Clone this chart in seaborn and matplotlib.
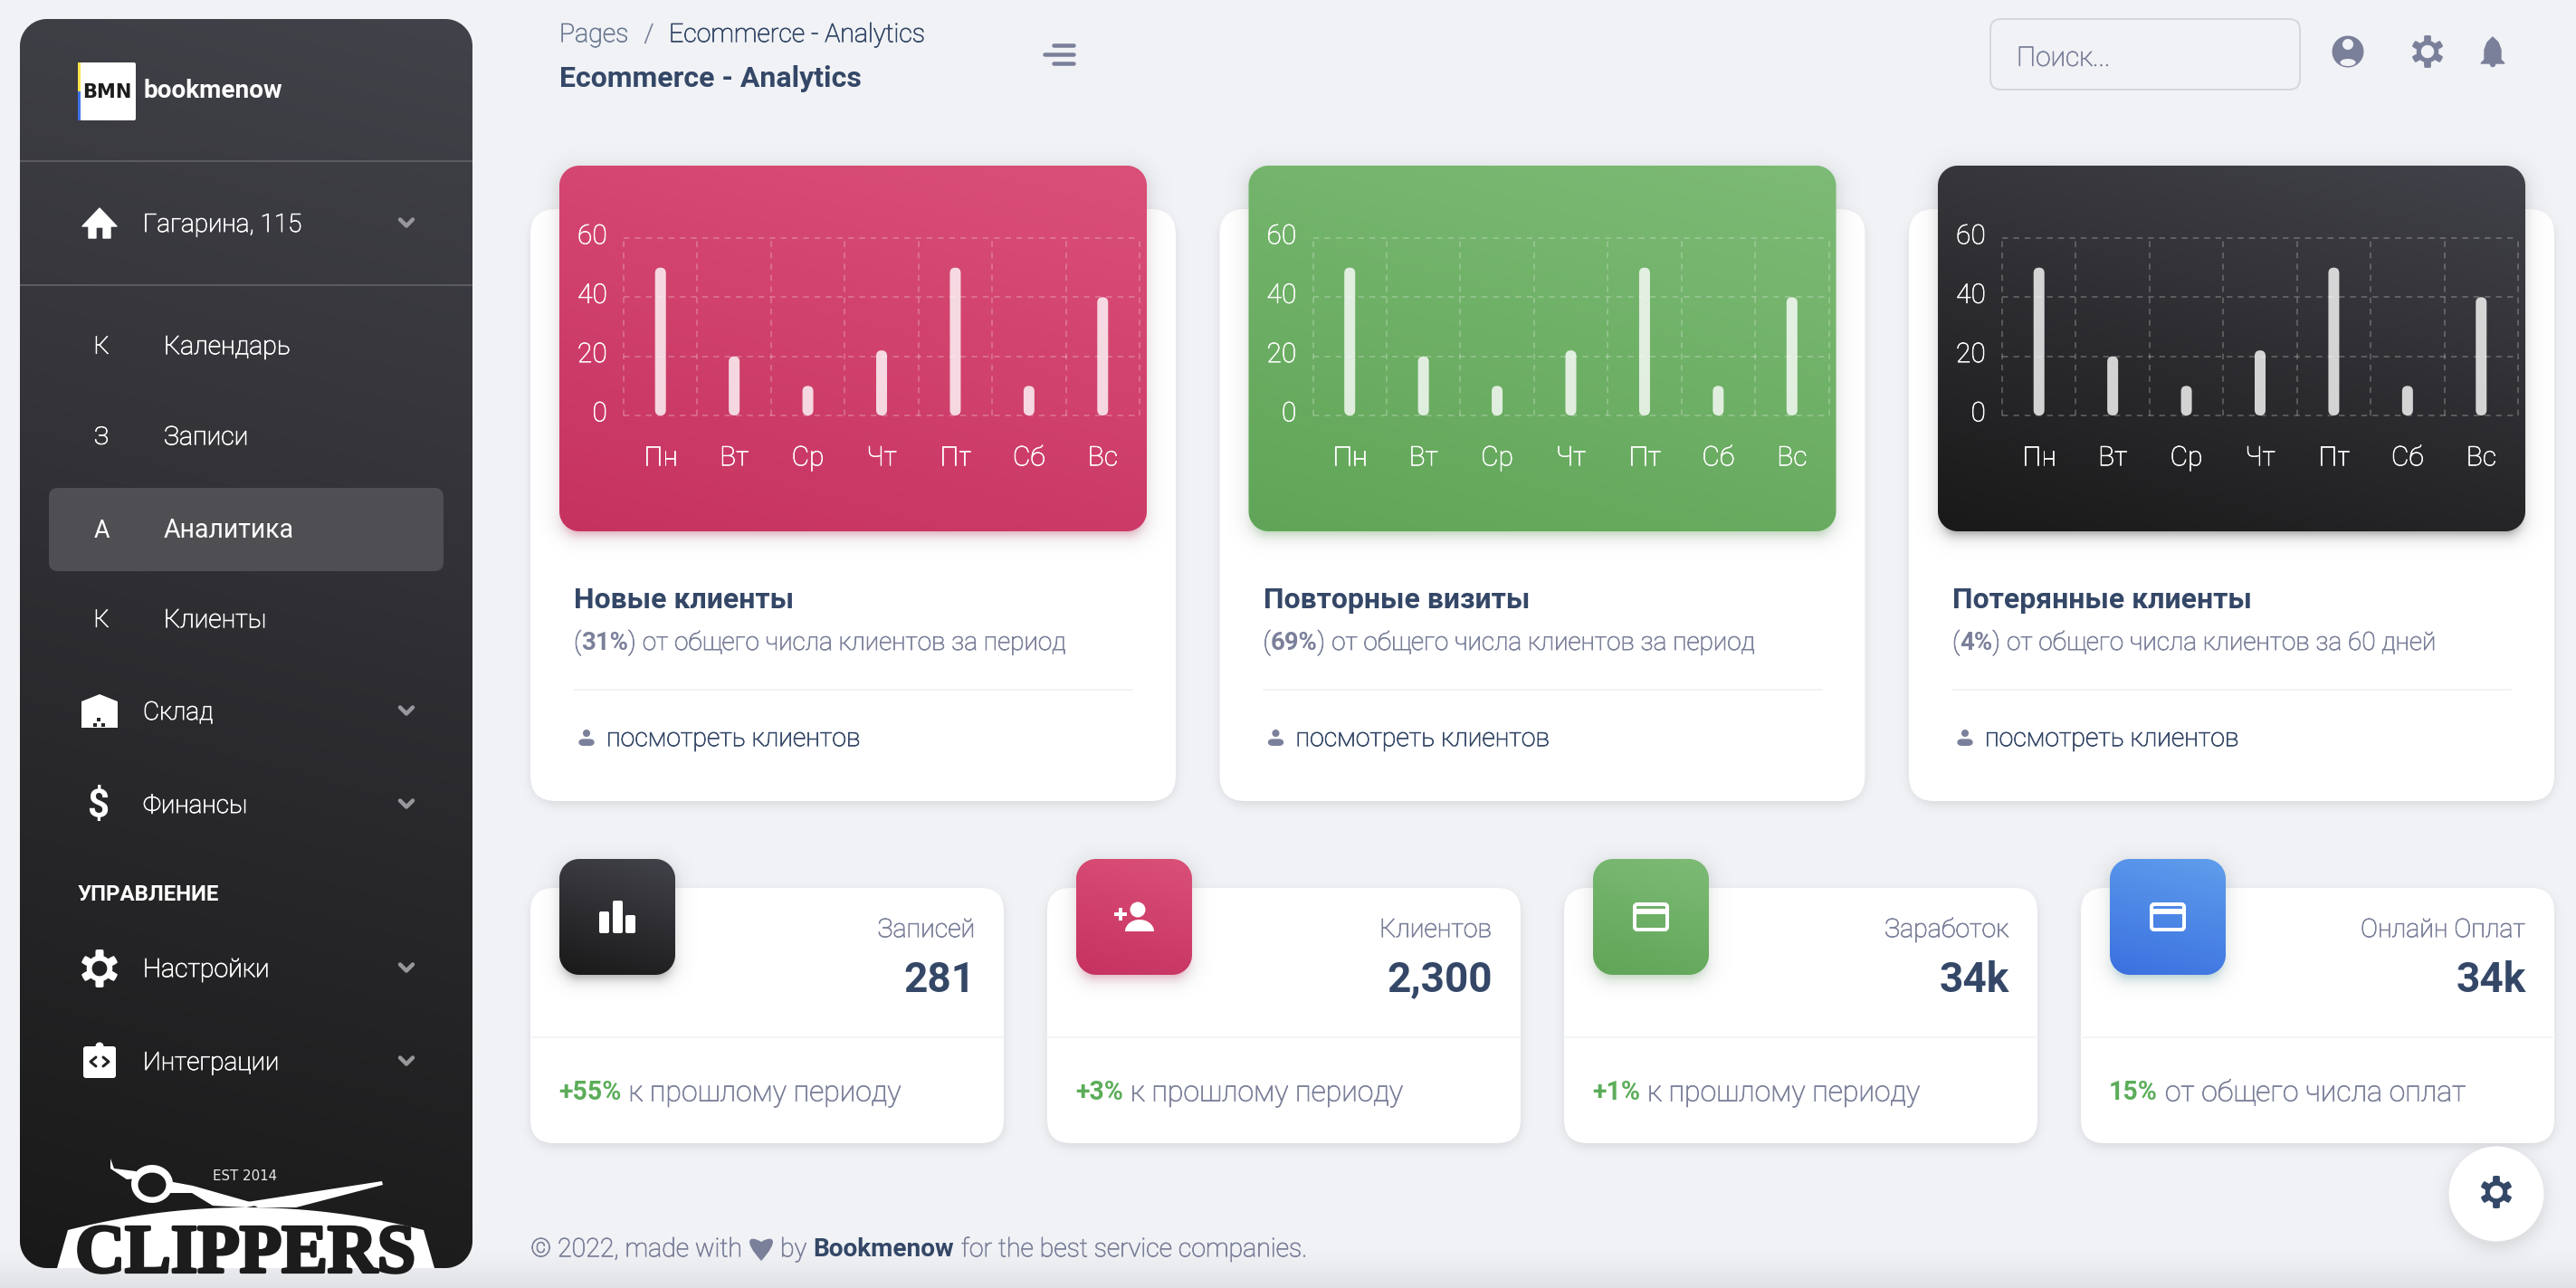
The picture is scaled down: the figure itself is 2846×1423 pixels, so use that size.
import numpy as np
import matplotlib
matplotlib.use('Agg')
import matplotlib.pyplot as plt
from matplotlib.colors import to_rgb
from matplotlib.patches import FancyBboxPatch, Polygon, Circle, Ellipse, Rectangle, PathPatch
from matplotlib.path import Path
from matplotlib.transforms import ScaledTranslation
import matplotlib.patheffects as pe
import seaborn as sns

# ---------- data ----------
days = ['Пн', 'Вт', 'Ср', 'Чт', 'Пт', 'Сб', 'Вс']
new_clients = [50, 20, 10, 22, 50, 10, 40]
repeat_visits = [50, 20, 10, 22, 50, 10, 40]
lost_clients = [50, 20, 10, 22, 50, 10, 40]
y_ticks = [0, 20, 40, 60]
card_titles = ['Новые клиенты', 'Повторные визиты', 'Потерянные клиенты']
card_pcts = ['31%', '69%', '4%']
card_tails = ['от общего числа клиентов за период', 'от общего числа клиентов за период',
              'от общего числа клиентов за 60 дней']
stat_labels = ['Записей', 'Клиентов', 'Заработок', 'Онлайн Оплат']
stat_values = ['281', '2,300', '34k', '34k']
stat_deltas = ['+55%', '+3%', '+1%', '15%']
stat_tails = ['к прошлому периоду', 'к прошлому периоду', 'к прошлому периоду', 'от общего числа оплат']

W, H = 2846, 1423
BG = '#f0f2f5'
DARK = '#344767'
GRAY = '#7b809a'
PINK = ('#da5078', '#c63260')
GREEN = ('#7dbb76', '#60a557')
BLACK = ('#42424a', '#191919')
BLUE = ('#5f9eec', '#3a70e0')
FONT = ['Roboto', 'DejaVu Sans']
SIDE = '#ffffff'

sns.set_style('white')
plt.rcParams['font.family'] = FONT

fig = plt.figure(figsize=(W / 100, H / 100), dpi=100, facecolor=BG)
pg = fig.add_axes([0, 0, 1, 1], zorder=0)
pg.set_axis_off()
pg.set_xlim(0, W)
pg.set_ylim(H, 0)
_z = [1]


def z():
    _z[0] += 1
    return _z[0]


def sdf(xx, yy, x0, y0, x1, y1, r):
    cx, cy = (x0 + x1) / 2, (y0 + y1) / 2
    qx = np.abs(xx - cx) - ((x1 - x0) / 2 - r)
    qy = np.abs(yy - cy) - ((y1 - y0) / 2 - r)
    return np.hypot(np.maximum(qx, 0), np.maximum(qy, 0)) + np.minimum(np.maximum(qx, qy), 0) - r


def grid(x0, y0, x1, y1):
    xs = np.arange(int(x0), int(x1) + 1) + 0.5
    ys = np.arange(int(y0), int(y1) + 1) + 0.5
    xx, yy = np.meshgrid(xs, ys)
    return xx, yy, (int(x0), int(x1) + 1, int(y1) + 1, int(y0))


def shadow(x0, y0, x1, y1, r, sigma, dy, alpha, color='#000000', spread=0):
    m = sigma * 4
    xx, yy, ext = grid(x0 - m, y0 - m + dy, x1 + m, y1 + m + dy)
    d = sdf(xx, yy, x0 - spread, y0 - spread + dy, x1 + spread, y1 + spread + dy, max(r + spread, 1))
    a = alpha * 0.5 * (1 - np.tanh(d / (sigma * 1.2)))
    img = np.zeros(a.shape + (4,))
    img[..., :3] = to_rgb(color)
    img[..., 3] = a
    pg.imshow(img, extent=ext, aspect='auto', zorder=z(), interpolation='nearest')


def grad_box(x0, y0, x1, y1, r, cols):
    xx, yy, ext = grid(x0 - 1, y0 - 1, x1 + 1, y1 + 1)
    w, h = x1 - x0, y1 - y0
    th = np.radians(195)
    dx, dy = np.sin(th), -np.cos(th)
    L = abs(w * dx) + abs(h * dy)
    t = np.clip(((xx - (x0 + x1) / 2) * dx + (yy - (y0 + y1) / 2) * dy) / L + .5, 0, 1)
    c0, c1 = np.array(to_rgb(cols[0])), np.array(to_rgb(cols[1]))
    img = np.zeros(t.shape + (4,))
    for i in range(3):
        img[..., i] = c0[i] + (c1[i] - c0[i]) * t
    img[..., 3] = np.clip(0.5 - sdf(xx, yy, x0, y0, x1, y1, r), 0, 1)
    pg.imshow(img, extent=ext, aspect='auto', zorder=z(), interpolation='nearest')


def box(x0, y0, x1, y1, r, fc, ec='none', lw=0):
    p = FancyBboxPatch((x0, y0), x1 - x0, y1 - y0, boxstyle=f'round,pad=0,rounding_size={r}',
                       fc=fc, ec=ec, lw=lw * .72, zorder=z())
    pg.add_patch(p)
    return p


def T(x, y, s, px, color, weight='normal', ha='left', **kw):
    """y is the visual centre of the capitals. weight 'semi' = light face, slightly thickened."""
    semi = weight == 'semi'
    t = pg.text(x, y + 0.36 * px, s, fontsize=px * .72, color=color, fontweight='light' if semi else weight,
                ha=ha, va='baseline', zorder=z(), **kw)
    if semi:
        t.set_path_effects([pe.withStroke(linewidth=.55, foreground=color)])
    return t


def runs(x, y, items):
    r = fig.canvas.get_renderer()
    for s, px, col, w, gap in items:
        t = T(x, y, s, px, col, w)
        x = t.get_window_extent(r).x1 + gap


def ring(cx, cy, r, rev=False, n=48):
    a = np.linspace(0, 2 * np.pi, n, endpoint=False)
    if rev:
        a = a[::-1]
    return np.c_[cx + r * np.cos(a), cy + r * np.sin(a)]


def closed(pts):
    pts = np.vstack([pts, pts[0]])
    codes = [Path.MOVETO] + [Path.LINETO] * (len(pts) - 2) + [Path.CLOSEPOLY]
    return Path(pts, codes)


def gear(cx, cy, R, color):
    a = np.linspace(0, 2 * np.pi, 240, endpoint=False)
    tooth = np.clip(np.cos(6 * (a + np.pi / 6)) * 3.0, -1, 1)
    rr = R * (0.84 + 0.16 * tooth)
    outer = np.c_[cx + rr * np.cos(a), cy + rr * np.sin(a)]
    pth = Path.make_compound_path(closed(outer), closed(ring(cx, cy, R * .40, rev=True)))
    pg.add_patch(PathPatch(pth, fc=color, ec='none', zorder=z()))


def chevron(cx, cy):
    pg.plot([cx - 7, cx, cx + 7], [cy - 3.5, cy + 3.5, cy - 3.5], color='#97979c', lw=4.5 * .72,
            solid_capstyle='round', solid_joinstyle='round', zorder=z())


def person(cx, cy, s, color):
    pg.add_patch(Circle((cx, cy - s * .55), s * .45, fc=color, ec='none', zorder=z()))
    pg.add_patch(FancyBboxPatch((cx - s, cy + s * .15), 2 * s, s * .85,
                                boxstyle=f'round,pad=0,rounding_size={s * .6}', fc=color, ec='none', zorder=z()))


def card_icon(cx, cy):
    box(cx - 18, cy - 14, cx + 18, cy + 14, 3, 'none', 'white', 4)
    pg.add_patch(Rectangle((cx - 18, cy - 9), 36, 6, fc='white', ec='none', zorder=z()))


# ---------- page background ----------
xx, yy, ext = grid(0, 1340, W, H)
t = np.clip((yy - 1370) / (H - 1370), 0, 1) ** 1.5
img = np.zeros(t.shape + (4,))
img[..., 3] = 0.07 * t
pg.imshow(img, extent=ext, aspect='auto', zorder=z(), interpolation='nearest')

# ---------- sidebar ----------
grad_box(22, 21, 522, 1401, 30, BLACK)
for yy_ in (178, 315):
    pg.plot([22, 522], [yy_, yy_], color='#5a5a60', lw=2 * .72, zorder=z(), solid_capstyle='butt')

box(86, 69, 150, 133, 2, 'white')
pg.add_patch(Rectangle((86, 69), 3, 32, fc='#fbe44b', ec='none', zorder=z()))
pg.add_patch(Rectangle((86, 101), 3, 32, fc='#3f73e5', ec='none', zorder=z()))
T(118.5, 100, 'BMN', 21, '#1c1c1c', 'bold', ha='center', family='DejaVu Sans')
T(158, 98, 'bookmenow', 28, 'white', 'bold')

home = [(110, 230), (129, 250), (122, 250), (122, 263), (114, 263), (114, 251), (106, 251),
        (106, 263), (98, 263), (98, 250), (91, 250)]
pg.add_patch(Polygon(home, closed=True, fc='white', ec='white', lw=1, joinstyle='round', zorder=z()))
T(158, 246, 'Гагарина, 115', 28, SIDE, 'semi')
chevron(449, 246)

menu_letters = ['К', 'З', 'А', 'К']
menu_names = ['Календарь', 'Записи', 'Аналитика', 'Клиенты']
menu_y = [381, 481, 584, 683]
box(54, 539, 490, 631, 10, '#4f4f53')
for l, n, y in zip(menu_letters, menu_names, menu_y):
    act = n == 'Аналитика'
    T(112, y, l, 27, SIDE, 'normal' if act else 'semi', ha='center')
    T(181, y, n, 28.5, SIDE, 'normal' if act else 'semi')

# warehouse
pg.add_patch(Polygon([(110, 767), (130, 775), (130, 804), (90, 804), (90, 775)], closed=True,
                     fc='white', ec='none', zorder=z()))
for dx_, dy_ in ((109, 795), (105, 801), (114, 801)):
    pg.add_patch(Rectangle((dx_ - 2, dy_ - 2), 4, 4, fc='#28282b', ec='none', zorder=z()))
T(158, 785, 'Склад', 28, SIDE, 'semi')
chevron(449, 785)
T(108, 888, '$', 42, 'white', 'bold', ha='center')
T(158, 888, 'Финансы', 28, SIDE, 'semi')
chevron(449, 888)
T(86, 986, 'УПРАВЛЕНИЕ', 24, 'white', 'bold')
gear(110, 1070, 21, 'white')
T(158, 1069, 'Настройки', 28.5, SIDE, 'semi')
chevron(449, 1069)
# integrations
box(92, 1156, 128, 1191, 3, 'white')
pg.add_patch(Circle((110, 1156), 4.5, fc='white', ec='none', zorder=z()))
for pts in ([(106, 1168), (100, 1173), (106, 1178)], [(114, 1168), (120, 1173), (114, 1178)]):
    pg.plot(*zip(*pts), color='#222224', lw=3 * .72, zorder=z())
T(158, 1172, 'Интеграции', 28, SIDE, 'semi')
chevron(449, 1172)

# clippers logo
bx = np.linspace(75, 468, 40)
by = 1334 + 25 * ((bx - 271.5) / 196.5) ** 2
pg.add_patch(Polygon(list(zip(bx, by)) + [(480, 1401), (63, 1401)], closed=True, fc='white', ec='none', zorder=z()))
tx = T(271, 1378, 'CLIPPERS', 76, '#1c1c1c', 'bold', ha='center', family='Liberation Serif')
tx.set_path_effects([pe.withStroke(linewidth=2.5, foreground='#1c1c1c')])
clipr = Rectangle((22, 1300), 500, 101, transform=pg.transData)
tx.set_clip_path(clipr)
T(271, 1299, 'EST 2014', 15, '#e8e8e8', 'normal', ha='center', family='DejaVu Sans')
outer = ring(168, 1308, 1, n=48) - [168, 1308]
pts_o = outer * [23, 21] + [168, 1308]
pts_i = (outer * [15.5, 13.5] + [168, 1309])[::-1]
pg.add_patch(PathPatch(Path.make_compound_path(closed(pts_o), closed(pts_i)), fc='white', ec='none', zorder=z()))
pg.add_patch(Polygon([(122, 1280), (126, 1291), (150, 1294), (152, 1302), (140, 1303), (122, 1291)],
                     closed=True, fc='white', ec='none', zorder=z()))
pg.add_patch(Polygon([(186, 1305), (213, 1310), (287, 1331), (272, 1334), (235, 1332), (212, 1318), (186, 1318)],
                     closed=True, fc='white', ec='none', zorder=z()))
pg.add_patch(Polygon([(422, 1305), (423, 1309), (327, 1334), (285, 1334), (273, 1328)],
                     closed=True, fc='white', ec='none', zorder=z()))

# ---------- header ----------
T(618, 36, 'Pages', 28.5, '#6c7a92', 'semi')
T(717, 36, '/', 28, '#7b8499', 'semi', ha='center')
T(739, 36, 'Ecommerce - Analytics', 28.5, DARK, 'semi')
T(618, 84, 'Ecommerce - Analytics', 32, DARK, 'bold')
for y, xa in ((50, 1164), (60, 1154), (70, 1164)):
    pg.plot([xa, 1186], [y, y], color=GRAY, lw=4.5 * .72, solid_capstyle='round', zorder=z())
box(2199, 21, 2541, 99, 12, 'none', '#d5d7dc', 2)
T(2228, 62, 'Поиск...', 30, GRAY, 'semi')
# user icon
pth = Path.make_compound_path(closed(ring(2594, 57, 17.5)), closed(ring(2594, 49, 6, rev=True)))
pg.add_patch(PathPatch(pth, fc=GRAY, ec='none', zorder=z()))
pg.add_patch(Ellipse((2594, 69), 17, 8, fc=BG, ec='none', zorder=z()))
gear(2682, 57, 18, GRAY)
# bell
pg.add_patch(Polygon([(2754, 41), (2760, 47), (2763, 55), (2763, 66), (2767, 70), (2741, 70), (2745, 66), (2745, 55),
                      (2748, 47)], closed=True, fc=GRAY, ec=GRAY, lw=1, zorder=z()))
pg.add_patch(Circle((2754, 71), 3.2, fc=GRAY, ec='none', zorder=z()))

# ---------- chart cards ----------
series = [new_clients, repeat_visits, lost_clients]
cols = [PINK, GREEN, BLACK]
tint = ['#c63260', '#60a557', '#191919']
for i, (vals, c, ti) in enumerate(zip(series, cols, tint)):
    o = i * 761.5
    shadow(586 + o, 231, 1299 + o, 885, 30, 6, 4, .10)
    box(586 + o, 231, 1299 + o, 885, 28, 'white')
    shadow(618 + o, 183, 1267 + o, 587, 22, 14, 4, .11)
    shadow(618 + o, 183, 1267 + o, 587, 22, 6, 9, .40, ti, spread=-6)
    grad_box(618 + o, 183, 1267 + o, 587, 22, c)
    T(634 + o, 660, card_titles[i], 32, DARK, 'bold')
    runs(634 + o, 708, [('(', 28, GRAY, 'semi', 0), (card_pcts[i], 27.5, GRAY, 'bold', 0),
                        (')', 28, GRAY, 'semi', 7), (card_tails[i], 28, GRAY, 'semi', 0)])
    pg.plot([634 + o, 1251 + o], [762, 762], color='#f2f3f4', lw=2 * .72, zorder=z())
    person(648 + o, 815, 9, GRAY)
    T(670 + o, 814, 'посмотреть клиентов', 28.5, DARK, 'semi')

    ax_x0, ax_x1, ax_y0, ax_y1 = 689 + o, 1259 + o, 263, 459
    ax = fig.add_axes([ax_x0 / W, 1 - ax_y1 / H, (ax_x1 - ax_x0) / W, (ax_y1 - ax_y0) / H], zorder=5)
    ax.set_facecolor('none')
    sns.barplot(x=days, y=vals, ax=ax, color='white', width=12 / (570 / 7), saturation=1, errorbar=None)
    ax.set_xlim(-.5, 6.5)
    ax.set_ylim(0, 60)
    ax.set_yticks(y_ticks)
    ax.set_xticks(np.arange(7))
    ax.set_xticklabels(days)
    ax.set_xticks(np.arange(8) - .5, minor=True)
    ax.set_axisbelow(True)
    gs = dict(color='white', alpha=.22, lw=2 * .72, linestyle=(0, (3.2, 3)), clip_on=False)
    ax.grid(True, axis='y', which='major', **gs)
    ax.grid(True, axis='x', which='minor', **gs)
    ax.grid(False, axis='x', which='major')
    for s in ax.spines.values():
        s.set_visible(False)
    ax.tick_params(axis='both', which='both', length=0)
    ax.tick_params(axis='x', pad=24, labelsize=30 * .72, labelcolor='white')
    ax.tick_params(axis='y', pad=13, labelsize=30 * .72, labelcolor='white')
    up = ScaledTranslation(0, 4.5 / 100, fig.dpi_scale_trans)
    for l in ax.get_yticklabels():
        l.set_transform(l.get_transform() + up)
    for l in ax.get_xticklabels() + ax.get_yticklabels():
        l.set_fontweight('light')
        l.set_path_effects([pe.withStroke(linewidth=.45, foreground='white')])
    ax.set_xlabel('')
    ax.set_ylabel('')
    rx = 6 * 7 / 570
    aspect = (60 / 196) / (7 / 570)
    for p in list(ax.patches):
        if p.get_height() > 0:
            ax.add_patch(FancyBboxPatch((p.get_x(), p.get_y()), p.get_width(), p.get_height(),
                                        boxstyle=f'round,pad=0,rounding_size={rx}', mutation_aspect=aspect,
                                        fc='white', ec='none', alpha=.8, zorder=3, clip_on=False))
            p.remove()

# ---------- stat cards ----------
stat_cols = [BLACK, PINK, GREEN, BLUE]
stat_tint = ['#191919', '#c63260', '#60a557', '#2f8f9f']
for i in range(4):
    o = i * 571
    shadow(586 + o, 981, 1109 + o, 1263, 26, 6, 4, .10)
    box(586 + o, 981, 1109 + o, 1263, 26, 'white')
    shadow(618 + o, 949, 746 + o, 1077, 22, 13, 4, .11)
    shadow(618 + o, 949, 746 + o, 1077, 22, 6, 9, .35, stat_tint[i], spread=-6)
    grad_box(618 + o, 949, 746 + o, 1077, 22, stat_cols[i])
    T(1077 + o, 1025, stat_labels[i], 28.5, GRAY, 'semi', ha='right')
    T(1078 + o, 1079, stat_values[i], 46, DARK, 'bold', ha='right')
    pg.plot([586 + o, 1109 + o], [1146, 1146], color='#f4f5f6', lw=2 * .72, zorder=z())
    runs(617 + o, 1205, [(stat_deltas[i], 28.5, '#5cad5a', 'bold', 8), (stat_tails[i], 32, GRAY, 'semi', 0)])

# stat icons
for bx0, by0, h_ in ((662, 1007, 24), (677, 995, 36), (691, 1011, 20)):
    box(bx0, by0, bx0 + 11, by0 + h_, 2, 'white')
pg.add_patch(Circle((1257, 1005), 8.5, fc='white', ec='none', zorder=z()))
a_ = np.linspace(np.pi, 2 * np.pi, 30)
pg.add_patch(Polygon(np.c_[1259 + 16 * np.cos(a_), 1029 + 13 * np.sin(a_)], closed=True, fc='white', ec='none', zorder=z()))
pg.add_patch(Rectangle((1231, 1008), 14, 4, fc='white', ec='none', zorder=z()))
pg.add_patch(Rectangle((1236, 1003), 4, 14, fc='white', ec='none', zorder=z()))
card_icon(1824, 1013)
card_icon(2395, 1013)

# ---------- floating button ----------
shadow(2706, 1266, 2810, 1372, 52, 10, 6, .12)
pg.add_patch(Circle((2758, 1319), 52.5, fc='white', ec='none', zorder=z()))
gear(2758, 1317, 18, DARK)

# ---------- footer ----------
runs(586, 1378, [('© 2022, made with', 28.5, GRAY, 'semi', 8)])
pg.add_patch(PathPatch(Path([(841, 1393), (820, 1370), (828, 1364), (841, 1372), (854, 1364), (862, 1370), (841, 1393), (841, 1393)],
                            [Path.MOVETO, Path.CURVE4, Path.CURVE4, Path.CURVE4, Path.CURVE4, Path.CURVE4, Path.CURVE4, Path.CLOSEPOLY]),
                       fc=GRAY, ec='none', zorder=z()))
runs(862, 1378, [('by', 28.5, GRAY, 'semi', 7), ('Bookmenow', 28, DARK, 'bold', 8),
                 ('for the best service companies.', 28.5, GRAY, 'semi', 0)])

pg.set_xlim(0, W)
pg.set_ylim(H, 0)
fig.savefig('out.png', dpi=100, facecolor=BG)
